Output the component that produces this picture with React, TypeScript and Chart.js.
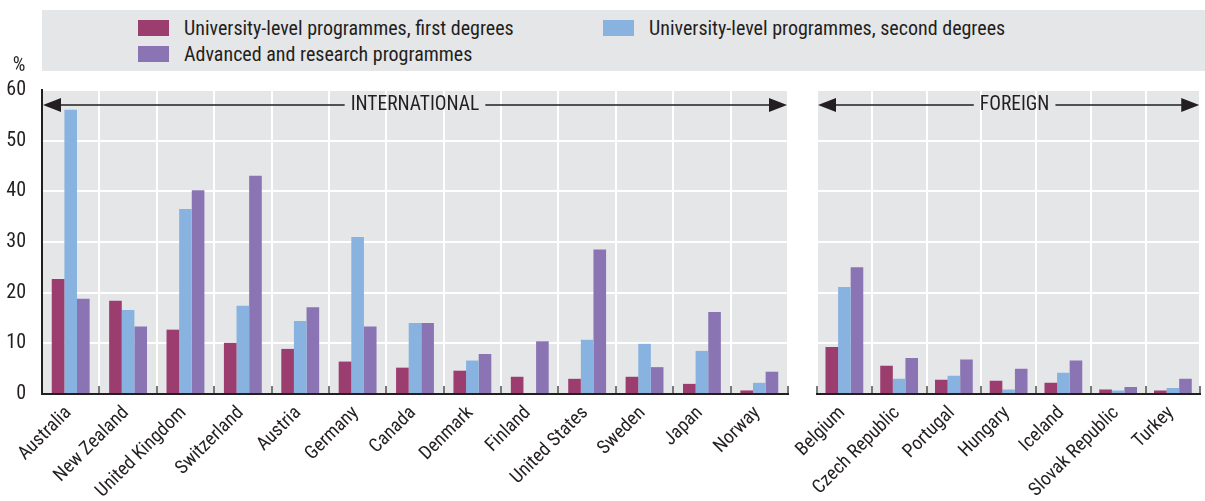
import React, { useEffect, useRef } from "react";
import { Chart, registerables } from "chart.js";

Chart.register(...registerables);

// ---------- data ----------
const seriesLabels = [
  "University-level programmes, first degrees",
  "University-level programmes, second degrees",
  "Advanced and research programmes",
];
const seriesColors = ["#9c3d6f", "#88b3e0", "#8a74b4"];

const intlCountries = [
  "Australia", "New Zealand", "United Kingdom", "Switzerland", "Austria", "Germany",
  "Canada", "Denmark", "Finland", "United States", "Sweden", "Japan", "Norway",
];
const intlFirst = [22.7, 18.4, 12.7, 10.1, 8.9, 6.4, 5.2, 4.6, 3.4, 3.0, 3.4, 2.0, 0.7];
const intlSecond = [56.1, 16.6, 36.5, 17.4, 14.4, 31.0, 14.0, 6.6, null, 10.7, 9.9, 8.5, 2.2];
const intlAdvanced = [18.8, 13.3, 40.2, 43.1, 17.1, 13.3, 14.0, 7.9, 10.4, 28.5, 5.3, 16.2, 4.4];

const foreignCountries = [
  "Belgium", "Czech Republic", "Portugal", "Hungary", "Iceland", "Slovak Republic", "Turkey",
];
const foreignFirst = [9.3, 5.6, 2.8, 2.6, 2.2, 0.9, 0.7];
const foreignSecond = [21.1, 3.0, 3.6, 0.9, 4.2, 0.7, 1.2];
const foreignAdvanced = [25.0, 7.1, 6.8, 5.0, 6.6, 1.4, 3.0];

const panelTitles = ["INTERNATIONAL", "FOREIGN"];
const yMin = 0;
const yMax = 60;
const yStep = 10;
const yUnit = "%";

// ---------- style ----------
const FONT = '"Liberation Sans Narrow", "Arial Narrow", "Roboto Condensed", "DejaVu Sans Condensed", "Liberation Sans", sans-serif';
const TEXT = "#231f20";
const PANEL_BG = "#e5e6e8";

const panelPlugin = {
  id: "panelDeco",
  beforeDraw(chart: any) {
    const { ctx, chartArea: a } = chart;
    ctx.save();
    ctx.fillStyle = PANEL_BG;
    ctx.fillRect(a.left, a.top, a.right - a.left, a.bottom - a.top);
    ctx.restore();
  },
  afterDatasetsDraw(chart: any, _args: any, opts: any) {
    const { ctx, chartArea: a } = chart;
    const y = a.top + 15;
    ctx.save();
    ctx.font = `19.5px ${FONT}`;
    const text: string = opts.text || "";
    const tw = ctx.measureText(text).width;
    const cx = (a.left + a.right) / 2 + (opts.dx || 0);
    const gap = 6;
    const head = 18;
    const half = 7;
    ctx.strokeStyle = TEXT;
    ctx.fillStyle = TEXT;
    ctx.lineWidth = 1.5;
    ctx.beginPath();
    ctx.moveTo(a.left + head, y);
    ctx.lineTo(cx - tw / 2 - gap, y);
    ctx.moveTo(cx + tw / 2 + gap, y);
    ctx.lineTo(a.right - head, y);
    ctx.stroke();
    ctx.beginPath();
    ctx.moveTo(a.left + 1, y);
    ctx.lineTo(a.left + 1 + head, y - half);
    ctx.lineTo(a.left + 1 + head, y + half);
    ctx.closePath();
    ctx.fill();
    ctx.beginPath();
    ctx.moveTo(a.right - 1, y);
    ctx.lineTo(a.right - 1 - head, y - half);
    ctx.lineTo(a.right - 1 - head, y + half);
    ctx.closePath();
    ctx.fill();
    ctx.textAlign = "center";
    ctx.textBaseline = "middle";
    ctx.fillText(text, cx, y);
    if (opts.unit) {
      ctx.font = `20px ${FONT}`;
      ctx.fillText(opts.unit, 19, 66);
    }
    ctx.restore();
  },
};

function makeConfig(
  labels: string[],
  first: (number | null)[],
  second: (number | null)[],
  adv: (number | null)[],
  title: string,
  isLeft: boolean
): any {
  const vals = [first, second, adv];
  return {
    type: "bar",
    data: {
      labels,
      datasets: vals.map((d, i) => ({
        label: seriesLabels[i],
        data: d,
        backgroundColor: seriesColors[i],
        borderWidth: 0,
        barPercentage: 1,
        categoryPercentage: isLeft ? 0.66 : 0.69,
      })),
    },
    options: {
      responsive: false,
      animation: false,
      devicePixelRatio: 1,
      layout: { padding: { top: 90, right: isLeft ? 12 : 0, left: 0, bottom: 0 } },
      plugins: {
        legend: { display: false },
        tooltip: { enabled: false },
        panelDeco: { text: title, dx: isLeft ? 0 : 6, unit: isLeft ? yUnit : "" },
      },
      scales: {
        x: {
          offset: true,
          grid: {
            offset: true,
            color: "#ffffff",
            lineWidth: 2,
            drawTicks: true,
            tickLength: -8,
            tickColor: "#4d4d4d",
            tickWidth: 1.5,
          },
          border: { display: true, color: TEXT, width: 2 },
          ticks: {
            color: TEXT,
            font: { family: FONT, size: 19 },
            minRotation: 45,
            maxRotation: 45,
            autoSkip: false,
            padding: 16,
            labelOffset: -2,
          },
          afterFit(s: any) {
            s.height = 107;
          },
        },
        y: {
          min: yMin,
          max: yMax,
          ticks: {
            display: isLeft,
            stepSize: yStep,
            color: TEXT,
            font: { family: FONT, size: 20 },
            padding: 16,
          },
          grid: { color: "#ffffff", lineWidth: 2, drawTicks: false },
          border: { display: isLeft, color: TEXT, width: 2 },
          afterFit(s: any) {
            s.width = isLeft ? 42 : 37;
          },
        },
      },
    },
    plugins: [panelPlugin],
  };
}

function ChartCanvas({ config, width, height, left }: any) {
  const ref = useRef<HTMLCanvasElement | null>(null);
  useEffect(() => {
    if (!ref.current) return;
    const chart = new Chart(ref.current, config);
    return () => chart.destroy();
  }, []);
  return (
    <canvas
      ref={ref}
      width={width}
      height={height}
      style={{ position: "absolute", left, top: 0, width, height }}
    />
  );
}

function LegendItem({ idx, x, y }: { idx: number; x: number; y: number }) {
  return (
    <div style={{ position: "absolute", left: x, top: y, height: 16, display: "flex", alignItems: "center" }}>
      <div style={{ width: 31, height: 16, background: seriesColors[idx] }} />
      <div
        style={{
          marginLeft: 15,
          fontFamily: FONT,
          fontSize: 20,
          color: TEXT,
          whiteSpace: "nowrap",
          lineHeight: "16px",
        }}
      >
        {seriesLabels[idx]}
      </div>
    </div>
  );
}

export default function App() {
  return (
    <div style={{ position: "absolute", left: 0, top: 0, width: 1205, height: 501, background: "#fff", overflow: "hidden" }}>
      <div style={{ position: "absolute", left: 42, top: 10, width: 1163, height: 61, background: PANEL_BG }} />
      <LegendItem idx={0} x={138} y={20} />
      <LegendItem idx={1} x={603} y={20} />
      <LegendItem idx={2} x={138} y={46} />
      <ChartCanvas
        config={makeConfig(intlCountries, intlFirst, intlSecond, intlAdvanced, panelTitles[0], true)}
        width={800}
        height={501}
        left={0}
      />
      <ChartCanvas
        config={makeConfig(foreignCountries, foreignFirst, foreignSecond, foreignAdvanced, panelTitles[1], false)}
        width={425}
        height={501}
        left={780}
      />
    </div>
  );
}
